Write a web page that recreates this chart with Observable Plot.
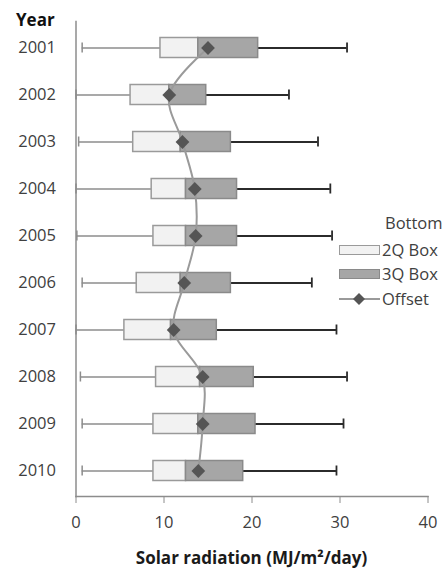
<!DOCTYPE html>
<html>
<head>
<meta charset="utf-8">
<script src="https://cdn.jsdelivr.net/npm/d3@7"></script>
<script src="https://cdn.jsdelivr.net/npm/@observablehq/plot@0.6"></script>
<style>
  html, body { margin: 0; padding: 0; background: #fff; }
  #chart { position: relative; width: 448px; height: 569px; font-family: "Open Sans", sans-serif; color: #404040; }
  #chart svg { display: block; }
  .ylab { position: absolute; left: 16px; top: 8px; font-weight: 700; font-size: 17px; color: #111; line-height: 24px; }
  .xlab { position: absolute; left: 75px; right: 20px; top: 543px; text-align: center; font-weight: 700; font-size: 17px; color: #1a1a1a; line-height: 30px; }
  .legend { position: absolute; left: 0; top: 0; font-size: 16.5px; line-height: 22px; }
  .legend div { position: absolute; white-space: nowrap; }
  .sw { position: absolute; width: 39px; height: 8px; }
</style>
</head>
<body>
<div id="chart"></div>
<script>
// Daily solar radiation summaries per year (MJ/m²/day)
const years   = ["2001", "2002", "2003", "2004", "2005", "2006", "2007", "2008", "2009", "2010"];
const minimum = [0.7, 0.0, 0.3, 0.0, 0.1, 0.7, 0.0, 0.5, 0.7, 0.7];
const q1      = [9.6, 6.2, 6.5, 8.6, 8.8, 6.9, 5.5, 9.1, 8.8, 8.8];
const median  = [13.9, 10.6, 11.9, 12.5, 12.5, 11.9, 10.8, 14.1, 13.9, 12.5];
const q3      = [20.7, 14.8, 17.6, 18.3, 18.3, 17.6, 16.0, 20.2, 20.4, 19.0];
const maximum = [30.8, 24.2, 27.5, 28.9, 29.1, 26.8, 29.6, 30.8, 30.4, 29.6];
const offset  = [15.0, 10.6, 12.1, 13.5, 13.6, 12.3, 11.1, 14.4, 14.4, 13.9];
const xTicks  = [0, 10, 20, 30, 40];

const legendTitle = "Bottom";
const legendItems = ["2Q Box", "3Q Box", "Offset"];
const xTitle = "Solar radiation (MJ/m²/day)";
const yTitle = "Year";

const rows = years.map((year, i) => ({
  year, min: minimum[i], q1: q1[i], median: median[i], q3: q3[i], max: maximum[i], offset: offset[i]
}));

const axisGrey = "#8c8c8c";
const boxInset = 13.5;
const capInset = 18.5;

const plot = Plot.plot({
  width: 448,
  height: 535,
  marginTop: 21,
  marginBottom: 39,
  marginLeft: 75.5,
  marginRight: 20.5,
  style: { fontFamily: "'Open Sans', sans-serif", fontSize: "16.5px", background: "#fff", color: "#404040" },
  x: { domain: [0, 40], label: null },
  y: { domain: years, type: "band", padding: 0, label: null },
  marks: [
    // lower whisker
    Plot.ruleY(rows, { y: "year", x1: "min", x2: "q1", stroke: axisGrey, strokeWidth: 1.5 }),
    Plot.tickX(rows, { y: "year", x: "min", stroke: axisGrey, strokeWidth: 1.5, insetTop: capInset, insetBottom: capInset }),
    // upper whisker
    Plot.ruleY(rows, { y: "year", x1: "q3", x2: "max", stroke: "#2b2b2b", strokeWidth: 1.8 }),
    Plot.tickX(rows, { y: "year", x: "max", stroke: "#2b2b2b", strokeWidth: 1.8, insetTop: capInset, insetBottom: capInset }),
    // second quartile box
    Plot.barX(rows, { y: "year", x1: "q1", x2: "median", fill: "#f2f2f2", stroke: "#9a9a9a", strokeWidth: 1.5, insetTop: boxInset, insetBottom: boxInset }),
    // third quartile box
    Plot.barX(rows, { y: "year", x1: "median", x2: "q3", fill: "#a6a6a6", stroke: "#8a8a8a", strokeWidth: 1.5, insetTop: boxInset, insetBottom: boxInset }),
    // offset line with diamond markers
    Plot.line(rows, { y: "year", x: "offset", curve: "catmull-rom", stroke: "#9a9a9a", strokeWidth: 2 }),
    Plot.dot(rows, { y: "year", x: "offset", symbol: "diamond2", r: 6.2, fill: "#555555", stroke: "none" }),
    // axes
    Plot.frame({ anchor: "left", stroke: axisGrey, strokeWidth: 1.5 }),
    Plot.frame({ anchor: "bottom", stroke: axisGrey, strokeWidth: 1.5 }),
    Plot.axisX({ ticks: xTicks, tickSize: 7, tickPadding: 13, stroke: axisGrey, fill: "#404040", label: null }),
    Plot.axisY({ tickSize: 0, tickPadding: 20, fill: "#404040", label: null })
  ]
});

const chart = document.getElementById("chart");
chart.appendChild(plot);

const yl = document.createElement("div");
yl.className = "ylab";
yl.textContent = yTitle;
chart.appendChild(yl);

const xl = document.createElement("div");
xl.className = "xlab";
xl.textContent = xTitle;
chart.appendChild(xl);

// legend
const legend = document.createElement("div");
legend.className = "legend";
legend.innerHTML = `
  <div style="left:385px;top:212px;">${legendTitle}</div>
  <span class="sw" style="left:339px;top:245px;background:#f2f2f2;border:1px solid #9a9a9a;"></span>
  <div style="left:382px;top:239px;">${legendItems[0]}</div>
  <span class="sw" style="left:339px;top:269px;background:#a6a6a6;border:1px solid #8a8a8a;"></span>
  <div style="left:382px;top:263px;">${legendItems[1]}</div>
  <svg style="position:absolute;left:339px;top:291px;" width="42" height="16">
    <line x1="0" y1="8" x2="41" y2="8" stroke="#9a9a9a" stroke-width="2"></line>
    <path d="M20,2 L26,8 L20,14 L14,8 Z" fill="#555555"></path>
  </svg>
  <div style="left:382px;top:288px;">${legendItems[2]}</div>
`;
chart.appendChild(legend);
</script>
</body>
</html>
